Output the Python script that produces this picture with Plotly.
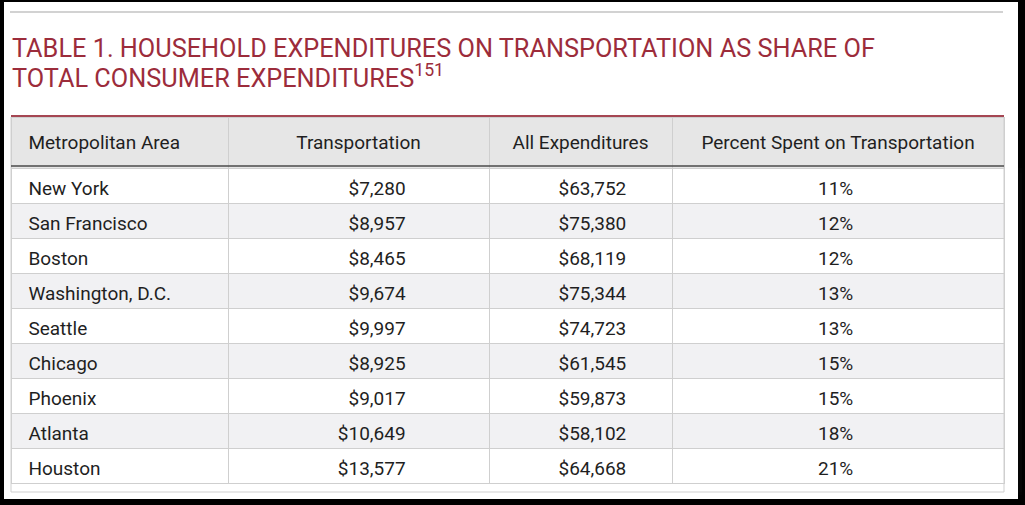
import plotly.graph_objects as go

# ---- data ----
areas = ["New York", "San Francisco", "Boston", "Washington, D.C.", "Seattle",
         "Chicago", "Phoenix", "Atlanta", "Houston"]
transportation = [7280, 8957, 8465, 9674, 9997, 8925, 9017, 10649, 13577]
all_expenditures = [63752, 75380, 68119, 75344, 74723, 61545, 59873, 58102, 64668]
percent_transport = [11, 12, 12, 13, 13, 15, 15, 18, 21]
headers = ["Metropolitan Area", "Transportation", "All Expenditures",
           "Percent Spent on Transportation"]
title_line1 = "TABLE 1. HOUSEHOLD EXPENDITURES ON TRANSPORTATION AS SHARE OF"
title_line2 = "TOTAL CONSUMER EXPENDITURES"
footnote = "151"

# ---- layout helpers ----
W, H = 1025, 505
def px(x):
    return x / W
def py(y):
    return 1 - y / H

TITLE_RED = "#9c2c3b"
TEXT = "#1f1f1f"
GRID = "#cfcfcf"
NB = "\u00a0"
CLEAR = "rgba(0,0,0,0)"
COLW = [217, 261, 183, 332]
FONT = dict(family="Roboto", size=19, color=TEXT)

n_rows = len(areas)
row_fill = ["#ffffff" if i % 2 == 0 else "#f1f1f3" for i in range(n_rows)]

# background grid: header band, striped rows, column rules
grid = go.Table(
    domain=dict(x=[px(11), px(1004)], y=[py(492), py(117)]),
    columnwidth=COLW,
    header=dict(
        values=["", "", "", ""],
        fill_color="#e6e6e6",
        line=dict(color=GRID, width=1),
        font=FONT,
        height=51,
    ),
    cells=dict(
        values=[[""] * n_rows] * 4,
        fill_color=[row_fill] * 4,
        line=dict(color=GRID, width=1),
        font=FONT,
        height=35,
    ),
)

# text layer: header and cell texts, vertically centred in their bands
text_layer = go.Table(
    domain=dict(x=[px(11), px(1004)], y=[py(495), py(127)]),
    columnwidth=COLW,
    header=dict(
        values=headers,
        prefix=[NB, None, None, None],
        align=["left", "center", "center", "center"],
        fill_color=CLEAR,
        line=dict(color=CLEAR, width=0),
        font=FONT,
        height=46,
    ),
    cells=dict(
        values=[areas, transportation, all_expenditures, percent_transport],
        format=[None, "$,", "$,", None],
        prefix=[NB, None, None, None],
        suffix=[" ", NB * 16, NB * 8, "%" + NB],
        align=["left", "right", "right", "center"],
        fill_color=CLEAR,
        line=dict(color=CLEAR, width=0),
        font=FONT,
        height=35,
    ),
)

fig = go.Figure([grid, text_layer])

shapes = [
    # white page inside black frame
    dict(type="rect", xref="paper", yref="paper", x0=px(4), x1=px(1018),
         y0=py(499), y1=py(2), fillcolor="white", line=dict(width=0), layer="below"),
    # top gray rule
    dict(type="line", xref="paper", yref="paper", x0=px(10), x1=px(1003),
         y0=py(12), y1=py(12), line=dict(color="#d2d2d2", width=2)),
    # table outer border
    dict(type="rect", xref="paper", yref="paper", x0=px(11), x1=px(1004),
         y0=py(492), y1=py(117), line=dict(color=GRID, width=1)),
    # red rule above header
    dict(type="line", xref="paper", yref="paper", x0=px(11), x1=px(1004),
         y0=py(116), y1=py(116), line=dict(color="#a54652", width=2)),
    # dark rule below header
    dict(type="line", xref="paper", yref="paper", x0=px(11), x1=px(1004),
         y0=py(166), y1=py(166), line=dict(color="#4a4a4a", width=1.5)),
]

annotations = [
    dict(xref="paper", yref="paper", x=px(10), y=py(48.5), xanchor="left",
         yanchor="middle", showarrow=False, text=title_line1,
         font=dict(family="Roboto", size=25.3, color=TITLE_RED)),
    dict(xref="paper", yref="paper", x=px(10), y=py(76), xanchor="left",
         yanchor="middle", showarrow=False,
         text=title_line2 + "<sup>" + footnote + "</sup>",
         font=dict(family="Roboto", size=25.3, color=TITLE_RED)),
]

fig.update_layout(
    width=W, height=H,
    margin=dict(l=0, r=0, t=0, b=0),
    paper_bgcolor="black",
    shapes=shapes,
    annotations=annotations,
)

fig.write_html(
    "out.html",
    config={"displayModeBar": False},
    post_script="document.body.style.margin='0';document.body.style.background='black';",
)
